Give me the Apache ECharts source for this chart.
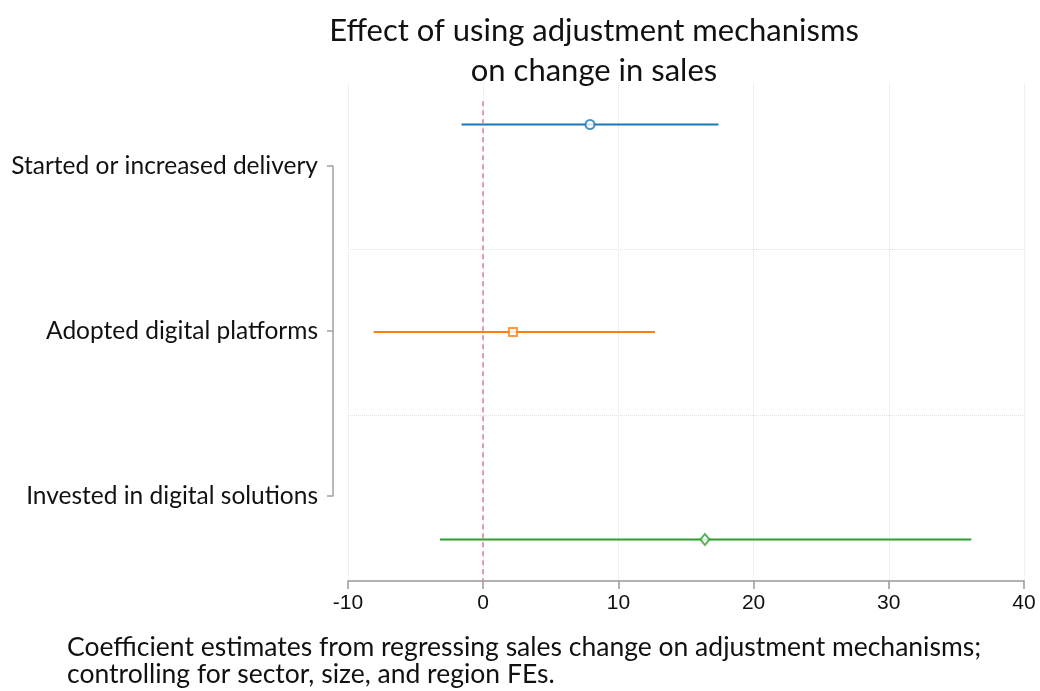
<!DOCTYPE html>
<html>
<head>
<meta charset="utf-8">
<script src="https://cdn.jsdelivr.net/npm/echarts@6/dist/echarts.min.js"></script>
<style>
  html, body { margin: 0; padding: 0; background: #fff; }
  #chart-container { width: 1040px; height: 691px; }
</style>
</head>
<body>
<div id="chart-container"></div>
<script>
// coefficient estimates and 95% CI
const labels = ['Started or increased delivery', 'Adopted digital platforms', 'Invested in digital solutions'];
const estimates = [7.9, 2.2, 16.4];
const lower = [-1.6, -8.1, -3.2];
const upper = [17.4, 12.7, 36.1];
const rowPos = [0.5, 3, 5.5];
const xTicks = [-10, 0, 10, 20, 30, 40];

const colors = ['#1f77b4', '#ff7f0e', '#2ca02c'];
const symbols = ['emptyCircle', 'emptyRect', 'emptyDiamond'];
const symbolSizes = [9, 8, [9, 11]];
const font = 'Lato';

var chartDom = document.getElementById('chart-container');
var myChart = echarts.init(chartDom);
var option;

var series = [];
for (let i = 0; i < labels.length; i++) {
    series.push({
        name: labels[i] + ' CI',
        type: 'line',
        xAxisIndex: 0,
        yAxisIndex: 0,
        showSymbol: false,
        silent: true,
        lineStyle: { color: colors[i], width: 2 },
        data: [[lower[i], rowPos[i]], [upper[i], rowPos[i]]],
        z: 3
    });
    series.push({
        name: labels[i],
        type: 'scatter',
        xAxisIndex: 0,
        yAxisIndex: 0,
        symbol: symbols[i],
        symbolSize: symbolSizes[i],
        itemStyle: { color: colors[i], borderColor: colors[i], borderWidth: 2 },
        data: [[estimates[i], rowPos[i]]],
        z: 4
    });
}
// zero reference line
series[0].markLine = {
    silent: true,
    symbol: 'none',
    label: { show: false },
    lineStyle: { color: '#d77fa6', type: [5, 4], width: 1.5 },
    data: [[{ coord: [0, 0.22] }, { coord: [0, 6] }]]
};

option = {
    animation: false,
    title: [
        {
            text: 'Effect of using adjustment mechanisms\non change in sales',
            left: 589,
            top: 6,
            textAlign: 'center',
            textStyle: { fontFamily: font, fontSize: 31, fontWeight: 'normal', color: '#111', lineHeight: 40 }
        },
        {
            text: 'Coefficient estimates from regressing sales change on adjustment mechanisms;\ncontrolling for sector, size, and region FEs.',
            left: 62,
            top: 629,
            textStyle: { fontFamily: font, fontSize: 26.5, fontWeight: 'normal', color: '#111', lineHeight: 27 }
        }
    ],
    grid: [
        { left: 348, right: 16, top: 83, bottom: 110 },
        { left: 333, width: 1, top: 166, height: 330 }
    ],
    xAxis: [
        {
            type: 'value',
            gridIndex: 0,
            position: 'bottom',
            min: -10,
            max: 40,
            interval: 10,
            axisLine: { show: true, onZero: false, lineStyle: { color: '#999', width: 1.5 } },
            axisTick: { show: true, length: 8, lineStyle: { color: '#999', width: 1.5 } },
            axisLabel: {
                fontFamily: 'Liberation Sans', fontSize: 21, color: '#111', margin: 12,
                formatter: v => xTicks.includes(v) ? String(v) : ''
            },
            splitLine: { show: true, lineStyle: { color: '#e2e2e2', type: 'dotted', width: 1 } }
        },
        {
            type: 'value',
            gridIndex: 1,
            show: false
        }
    ],
    yAxis: [
        {
            type: 'value',
            gridIndex: 0,
            inverse: true,
            min: 0,
            max: 6,
            interval: 2,
            axisLine: { show: false },
            axisTick: { show: false },
            axisLabel: { show: false },
            splitLine: {
                show: true, showMinLine: false, showMaxLine: false,
                lineStyle: { color: '#e2e2e2', type: 'dotted', width: 1 }
            }
        },
        {
            type: 'category',
            gridIndex: 1,
            inverse: true,
            boundaryGap: false,
            data: labels,
            axisLine: { show: true, lineStyle: { color: '#a0a0a0', width: 1.5 } },
            axisTick: { show: true, length: 6, lineStyle: { color: '#a0a0a0', width: 1.5 } },
            axisLabel: { fontFamily: font, fontSize: 24.5, color: '#111', margin: 15 },
            splitLine: { show: false }
        }
    ],
    series: series
};

option && myChart.setOption(option);
</script>
</body>
</html>
